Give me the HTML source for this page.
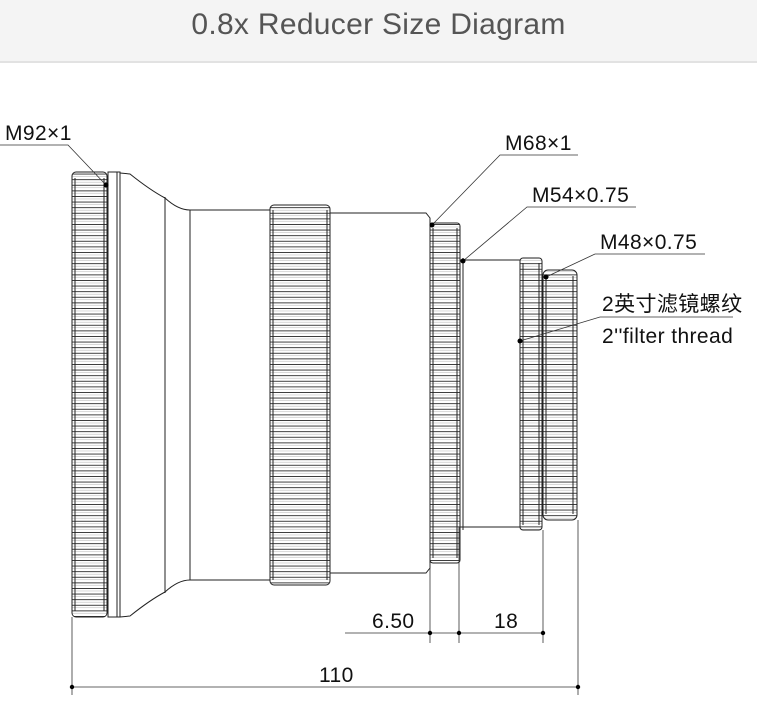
<!DOCTYPE html>
<html><head><meta charset="utf-8"><style>
html,body{margin:0;padding:0;background:#fff;width:757px;height:712px;overflow:hidden}
.hd{position:absolute;left:0;top:0;width:757px;height:61px;background:#f4f4f4;border-bottom:2px solid #e2e2e2;text-align:center;font-family:"Liberation Sans",sans-serif;font-size:30px;color:#555;line-height:50px;letter-spacing:0.3px}
svg{position:absolute;left:0;top:0}
text{font-family:"Liberation Sans","Noto Sans CJK SC",sans-serif;font-size:21px;fill:#111;letter-spacing:0.4px}
</style></head><body>
<div class="hd">0.8x Reducer Size Diagram</div>
<svg width="757" height="712" viewBox="0 0 757 712">
<defs>
<pattern id="k" x="0" y="0" width="40" height="5.6" patternUnits="userSpaceOnUse">
<line x1="0" y1="0.5" x2="40" y2="0.5" stroke="#333" stroke-width="0.9"/>
<line x1="0" y1="3" x2="40" y2="3" stroke="#bbb" stroke-width="0.6"/>
</pattern>
</defs>
<g fill="none" stroke="#222" stroke-width="1">
<rect x="72" y="172" width="35" height="445" rx="4" fill="url(#k)"/>
<line x1="75" y1="178" x2="75" y2="611"/><line x1="104" y1="178" x2="104" y2="611"/>
<rect x="108" y="172" width="12" height="445" fill="#fff"/>
<line x1="117" y1="172" x2="117" y2="617"/>
<path d="M120 173 L130 174 Q150 190 165 198 Q178 210 190 210 L270 210"/>
<path d="M120 617 L130 616 Q150 600 165 592 Q178 580 190 580 L270 580"/>
<line x1="165" y1="197" x2="165" y2="593"/>
<line x1="190" y1="210" x2="190" y2="580"/>
<rect x="270" y="205" width="60" height="380" rx="4" fill="url(#k)"/>
<line x1="273" y1="210" x2="273" y2="580"/><line x1="327" y1="210" x2="327" y2="580"/>
<path d="M330 213 L426 213 L430 218 L430 568 L426 573 L330 573"/>
<rect x="430" y="223" width="30" height="340" rx="3" fill="url(#k)"/>
<line x1="433" y1="228" x2="433" y2="558"/><line x1="457" y1="228" x2="457" y2="558"/>
<line x1="463" y1="258" x2="463" y2="530"/>
<path d="M460 260 L520 260 M460 527 L520 527"/>
<rect x="520" y="258" width="22" height="272" rx="3" fill="url(#k)"/>
<line x1="523" y1="263" x2="523" y2="525"/><line x1="539" y1="263" x2="539" y2="525"/>
<rect x="543" y="270" width="34" height="250" rx="5" fill="url(#k)"/>
<line x1="546" y1="276" x2="546" y2="514"/><line x1="573" y1="276" x2="573" y2="514"/>
</g>
<g fill="none" stroke="#333" stroke-width="0.8">
<path d="M0 145 L68 145 L106 185"/>
<path d="M578 155 L500 155 L432 225"/>
<path d="M636 207 L527 207 L463 261"/>
<path d="M705 254 L595 254 L546 277"/>
<path d="M733 317 L600 317 L520 341"/>
<line x1="72" y1="617" x2="72" y2="695"/>
<line x1="578" y1="520" x2="578" y2="695"/>
<line x1="430" y1="563" x2="430" y2="643"/>
<line x1="459" y1="527" x2="459" y2="643"/>
<line x1="543" y1="530" x2="543" y2="643"/>
<line x1="345" y1="633" x2="543" y2="633"/>
<line x1="72" y1="687" x2="578" y2="687"/>
</g>
<g fill="#000">
<circle cx="106" cy="185" r="2.5"/><circle cx="432" cy="225" r="2.5"/><circle cx="463" cy="261" r="2.5"/><circle cx="546" cy="277" r="2.5"/><circle cx="520" cy="341" r="2.5"/>
<circle cx="430" cy="633" r="2.2"/><circle cx="459" cy="633" r="2.2"/><circle cx="543" cy="633" r="2.2"/>
<circle cx="72" cy="687" r="2.2"/><circle cx="578" cy="687" r="2.2"/>
</g>
<text x="5" y="140">M92×1</text>
<text x="505" y="150">M68×1</text>
<text x="532" y="202">M54×0.75</text>
<text x="600" y="249">M48×0.75</text>
<text x="602" y="311">2英寸滤镜螺纹</text>
<text x="602" y="343">2''filter thread</text>
<text x="372" y="628">6.50</text>
<text x="494" y="628">18</text>
<text x="319" y="682">110</text>
</svg>
</body></html>
